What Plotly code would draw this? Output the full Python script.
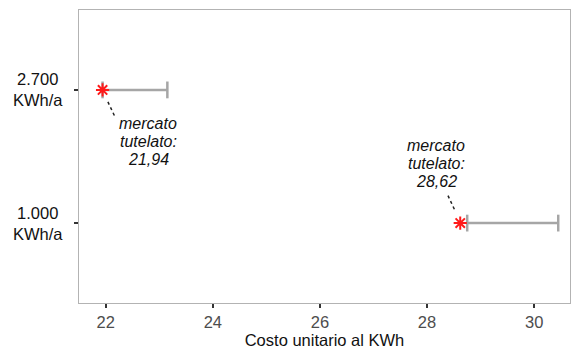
import plotly.graph_objects as go

# consumo annuo (dall'alto al basso) e costi in centesimi per KWh
consumi = ["2.700<br>KWh/a", "1.000<br>KWh/a"]
livello = [1, 0]
tutelato = [21.94, 28.62]
libero_min = [21.94, 28.75]
libero_max = [23.15, 30.45]

fig = go.Figure()

# intervallo mercato libero, con i "cappelli" alle estremita
for i in range(len(consumi)):
    fig.add_trace(go.Scatter(
        x=[libero_min[i], libero_max[i]], y=[livello[i], livello[i]],
        mode="lines+markers",
        line=dict(color="#a6a6a6", width=2.5),
        marker=dict(symbol="line-ns", size=12, color="#a6a6a6",
                    line=dict(color="#a6a6a6", width=2.5)),
        showlegend=False, hoverinfo="skip"))

# mercato tutelato
fig.add_trace(go.Scatter(
    x=tutelato, y=livello, mode="markers",
    marker=dict(symbol="asterisk-open", size=11, color="#ff1a1a",
                line=dict(color="#ff1a1a", width=2)),
    showlegend=False))

# etichette (una riga per annotazione, interlinea stretta) e linee guida
etichette = [(22.79, 0.612, 22.04, 0.91, 22.17, 0.80),
             (28.17, 0.45, 28.51, 0.104, 28.38, 0.216)]
for (ax_, ay_, x0, y0, x1, y1), v in zip(etichette, tutelato):
    righe = ["mercato", "tutelato:", f"{v:.2f}".replace(".", ",")]
    for k, riga in enumerate(righe):
        fig.add_annotation(
            x=ax_, y=ay_, xref="x", yref="y", showarrow=False,
            yshift=(1 - k) * 18,
            text="<i>" + riga + "</i>",
            font=dict(family="Liberation Sans, Arial", size=16, color="#111111"))
    fig.add_shape(type="line", x0=x0, y0=y0, x1=x1, y1=y1, xref="x", yref="y",
                  line=dict(color="#222222", width=1.5, dash="dot"))

# etichette dell'asse y centrate su due righe
for lab, lv in zip(consumi, livello):
    fig.add_annotation(
        x=0, y=lv, xref="paper", yref="y", xanchor="right", xshift=-14,
        showarrow=False, align="center", text=lab,
        font=dict(family="Liberation Sans, Arial", size=16.5, color="#111111"))

fig.update_xaxes(
    range=[21.5, 30.67], tickvals=[22, 24, 26, 28, 30],
    ticks="outside", ticklen=4, tickwidth=2, tickcolor="#333333",
    tickfont=dict(size=16.5, color="#4d4d4d"),
    showgrid=False, zeroline=False, showline=True, linecolor="#b3b3b3", mirror=True,
    title=dict(text="Costo unitario al KWh", font=dict(size=16.5, color="#111111"), standoff=2))
fig.update_yaxes(
    range=[-0.6, 1.6], tickvals=livello, showticklabels=False,
    ticks="outside", ticklen=4, tickwidth=1.5, tickcolor="#333333",
    showgrid=False, zeroline=False, showline=True, linecolor="#b3b3b3", mirror=True)

fig.update_layout(
    width=571, height=349,
    margin=dict(l=79, r=1, t=10, b=46),
    plot_bgcolor="white", paper_bgcolor="white",
    font=dict(family="Liberation Sans, Arial, sans-serif"))

fig.write_html("out.html", config={"displayModeBar": False},
               post_script="document.body.style.margin='0';")
